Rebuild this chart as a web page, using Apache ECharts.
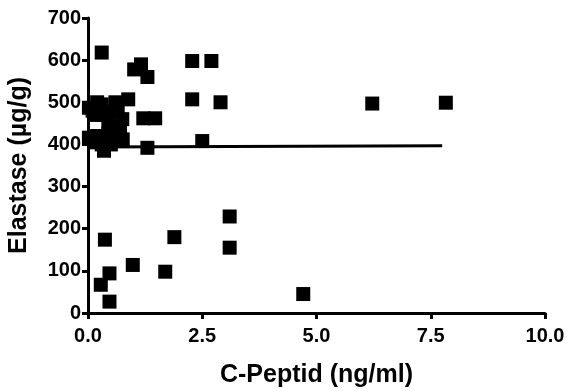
<!DOCTYPE html>
<html><head><meta charset="utf-8">
<script src="https://cdn.jsdelivr.net/npm/echarts@6/dist/echarts.min.js"></script>
<style>html,body{margin:0;padding:0;background:#fff}#c{width:579px;height:391px}</style>
</head><body><div id="c"></div>
<script>
const xTicks = [0, 2.5, 5.0, 7.5, 10.0];
const yTicks = [0, 100, 200, 300, 400, 500, 600, 700];
const cPeptid = [0.30,1.01,1.16,1.30,2.28,2.70,2.28,2.90,2.50,6.22,7.83,1.30,
  0.88,0.60,0.30,0.10,0.35,0.55,0.75,0.45,1.21,1.47,0.20,0.45,0.76,0.30,0.35,0.02,0.02,0.55,0.40,0.15,
  0.45,0.65,0.20,0.15,0.50,0.60,0.70,
  0.37,0.47,0.28,0.47,0.98,1.69,1.89,3.10,3.10,4.71];
const elastase = [618,578,590,560,598,598,507,500,408,497,499,392,
  507,500,495,480,470,478,460,450,462,462,420,425,412,400,385,487,416,440,410,470,
  445,480,500,405,400,420,440,
  174,94,67,27,114,98,180,229,155,45];
const fitX = [0.02, 7.75];
const fitY = [394, 397];

const pts = cPeptid.map((x,i)=>[x, elastase[i]]);
const fit = fitX.map((x,i)=>[x, fitY[i]]);
const font = 'Liberation Sans, Arial, sans-serif';
const chart = echarts.init(document.getElementById('c'));
chart.setOption({
  animation:false,
  grid:{left:88,right:34,top:18,bottom:78,containLabel:false,outerBoundsMode:'none'},
  xAxis:{type:'value',min:0,max:10,interval:2.5,
    name:'C-Peptid (ng/ml)',nameLocation:'middle',nameGap:50,
    nameTextStyle:{fontFamily:font,fontWeight:'bold',fontSize:25,color:'#000'},
    axisLine:{lineStyle:{color:'#000',width:3}},
    axisTick:{length:6,lineStyle:{color:'#000',width:3}},
    axisLabel:{margin:13,fontFamily:font,fontWeight:'bold',fontSize:20,color:'#000',
      formatter:v=>v.toFixed(1)},
    splitLine:{show:false}},
  yAxis:{type:'value',min:0,max:700,interval:100,
    name:'Elastase (µg/g)',nameLocation:'middle',nameGap:56,
    nameTextStyle:{fontFamily:font,fontWeight:'bold',fontSize:25,color:'#000'},
    axisLine:{lineStyle:{color:'#000',width:3}},
    axisTick:{length:6,lineStyle:{color:'#000',width:3}},
    axisLabel:{margin:7,fontFamily:font,fontWeight:'bold',fontSize:20,color:'#000'},
    splitLine:{show:false}},
  series:[
    {type:'line',data:fit,symbol:'none',lineStyle:{color:'#000',width:3},z:1},
    {type:'scatter',data:pts,symbol:'rect',symbolSize:14,itemStyle:{color:'#000',opacity:1},z:2}
  ]
});
</script></body></html>
